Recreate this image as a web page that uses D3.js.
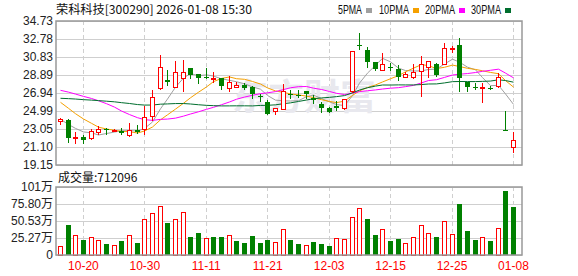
<!DOCTYPE html>
<html lang="zh">
	<head>
		<meta charset="utf-8">
		<title>荣科科技 日K</title>
		<style>
			body { margin: 0; background: #fff; }
			#chart text { font-family: "Liberation Sans", Arial, sans-serif; font-size: 12px; }
			#chart .cjk { font-family: "Noto Sans CJK SC", sans-serif; }
		</style>
	</head>
	<body>
		<svg id="chart" width="578" height="276"></svg>

		<script src="https://cdn.jsdelivr.net/npm/d3@7"></script>
		<script>
			"use strict";

			var dates = ["10-15","10-16","10-17","10-20","10-21","10-22","10-23","10-24","10-27","10-28",
				"10-29","10-30","10-31","11-03","11-04","11-05","11-06","11-07","11-10","11-11",
				"11-12","11-13","11-14","11-17","11-18","11-19","11-20","11-21","11-24","11-25",
				"11-26","11-27","11-28","12-01","12-02","12-03","12-04","12-05","12-08","12-09",
				"12-10","12-11","12-12","12-15","12-16","12-17","12-18","12-19","12-22","12-23",
				"12-24","12-25","12-26","12-29","12-30","12-31","01-05","01-06","01-07","01-08"];
			var open = [23.95,23.98,22.07,22.18,22.04,22.69,23.01,22.87,22.87,22.40,
				22.90,23.01,24.49,27.43,28.35,27.55,28.60,29.65,28.96,28.70,
				28.42,28.53,27.48,27.59,27.81,27.59,26.58,25.97,25.03,25.25,
				26.80,26.76,27.12,26.36,25.79,25.28,25.57,25.28,27.12,32.15,
				31.59,30.30,29.39,29.75,29.54,28.67,28.67,29.36,29.79,30.04,
				30.04,31.74,32.13,28.09,27.55,27.48,27.52,27.70,22.99,21.10];
			var high = [24.20,24.09,22.69,22.40,23.01,23.33,23.19,23.08,23.15,23.66,
				23.48,25.55,27.23,31.05,29.43,30.37,30.51,29.68,28.96,29.65,
				29.25,28.60,28.82,28.17,28.02,27.66,26.87,26.15,25.35,27.88,
				27.26,27.23,27.16,26.72,25.93,25.43,26.08,26.29,31.51,33.43,
				31.95,30.30,31.27,30.19,29.97,29.25,30.04,30.91,30.37,30.22,
				32.35,32.03,32.85,28.17,28.06,28.02,27.70,29.07,25.00,22.69];
			var low = [23.55,21.60,21.50,21.57,21.93,22.47,22.51,22.78,22.54,22.25,
				22.58,22.50,23.98,27.37,27.81,27.55,27.16,28.60,27.99,28.56,
				28.17,27.37,27.19,27.55,27.37,26.36,26.08,24.67,24.63,25.21,
				26.44,26.51,26.36,25.82,24.92,24.85,25.10,25.21,27.08,31.65,
				29.79,29.43,29.39,29.39,28.35,28.64,28.60,26.65,28.71,28.82,
				30.04,31.41,27.19,27.19,27.37,25.93,27.37,27.63,22.97,20.52];
			var close = [24.16,22.11,22.18,21.89,22.80,23.01,22.90,22.97,22.58,22.90,
				22.76,24.31,26.47,29.72,28.17,29.18,29.25,28.89,28.58,28.62,
				28.53,27.74,28.09,27.81,27.52,26.83,26.51,24.70,25.28,27.16,
				26.72,26.69,26.83,26.15,25.28,24.92,25.28,26.26,31.51,32.08,
				30.33,29.50,30.04,29.61,28.67,29.03,29.25,30.11,30.37,28.89,
				31.77,31.85,28.53,27.63,27.48,27.55,27.48,28.71,22.97,21.82];
			// 成交量 (万手)
			var volume = [13.4,44.6,29.2,22.3,26.7,21.8,16.3,14.4,20.8,29.2,
				17.8,53.5,61.9,72.3,47.5,53.5,63.4,26.7,32.7,25.2,
				26.7,26.7,29.2,20.8,17.8,28.2,17.8,22.3,18.8,38.1,
				22.3,16.3,14.4,19.3,16.3,13.4,25.2,23.8,56.4,69.8,
				53.5,29.7,38.6,20.8,23.8,17.3,26.7,44.1,32.2,26.7,
				50.0,31.2,75.7,35.6,22.3,26.7,20.8,40.1,95.0,71.21];
			// closes of the 29 sessions before 10-15 (estimated, used for the MA lines)
			var prevClose = [23.2,23.5,23.9,24.3,24.6,24.8,25.0,25.3,25.6,26.2,
				26.0,26.4,26.9,27.3,28.0,29.2,30.4,31.0,30.6,29.5,
				28.6,28.0,27.6,27.5,27.15,24.9,24.3,23.8,23.3];

			var priceTicks = [19.15, 21.10, 23.05, 24.99, 26.94, 28.89, 30.83, 32.78, 34.73];
			var volTicks = [0, 25.27, 50.53, 75.80, 101.07];
			var volTickLabels = ["0", "25.27万", "50.53万", "75.80万", "101万"];
			var dateTicks = ["10-20","10-30","11-11","11-21","12-03","12-15","12-25","01-08"];
			var maDays = [5, 10, 20, 30];
			var lastVolume = 712096;

			var maColor = ["#a0a0a0", "#f5a000", "#ff00ff", "#006e2e"];
			var upColor = "#ff0000", downColor = "#008000";

			var left = 56, right = 522;
			var svg = d3.select("#chart");

			var x = d3.scaleBand().domain(dates).range([left, left + dates.length * 7.68]);
			var y = d3.scaleLinear().domain([19.15, 34.73]).range([165, 21]);
			var yv = d3.scaleLinear().domain([0, 101.07]).range([255, 187]);

			function cx(d) { return Math.round(x(d) + x.bandwidth() / 2); }

			// 标题和图例
			svg.append("text").attr("class", "cjk").attr("x", 56).attr("y", 14)
				.attr("textLength", 196).attr("lengthAdjust", "spacingAndGlyphs")
				.attr("fill", "#111")
				.text("荣科科技[300290] 2026-01-08 15:30");

			var legendX = [338, 379, 425, 471];
			maDays.forEach(function(n, i){
				var t = svg.append("text").attr("x", legendX[i]).attr("y", 14)
					.attr("fill", "#111").text(n + "PMA");
				t.attr("textLength", n < 10 ? 24 : 30).attr("lengthAdjust", "spacingAndGlyphs");
				svg.append("rect").attr("x", legendX[i] + (n < 10 ? 28 : 34)).attr("y", 8)
					.attr("width", 6).attr("height", 5).attr("fill", maColor[i]);
			});

			// 网格
			var grid = svg.append("g").attr("shape-rendering", "crispEdges");
			grid.selectAll(".hp").data(priceTicks).enter().append("line")
				.attr("x1", left).attr("x2", right)
				.attr("y1", function(d){ return Math.round(y(d)) + 0.5; })
				.attr("y2", function(d){ return Math.round(y(d)) + 0.5; })
				.attr("stroke", "#cfcfcf");
			grid.selectAll(".hv").data(volTicks).enter().append("line")
				.attr("x1", left).attr("x2", right)
				.attr("y1", function(d){ return Math.round(yv(d)) + 0.5; })
				.attr("y2", function(d){ return Math.round(yv(d)) + 0.5; })
				.attr("stroke", "#cfcfcf");
			[[21, 165], [187, 255]].forEach(function(r){
				grid.selectAll(null).data(dateTicks).enter().append("line")
					.attr("x1", function(d){ return cx(d) + 0.5; })
					.attr("x2", function(d){ return cx(d) + 0.5; })
					.attr("y1", r[0]).attr("y2", r[1])
					.attr("stroke", "#cfcfcf").attr("stroke-dasharray", "4,3");
			});

			// 水印
			svg.append("text").attr("class", "cjk").attr("x", 232).attr("y", 110)
				.style("font-size", "36px").style("font-weight", "bold")
				.attr("fill", "#e8e8ee").text("东方财富");

			// 均线
			var allClose = prevClose.concat(close);
			var offset = prevClose.length;
			maDays.forEach(function(n, k){
				var ma = dates.map(function(d, i){
					return d3.mean(allClose.slice(offset + i - n + 1, offset + i + 1));
				});
				svg.append("path").datum(ma)
					.attr("fill", "none").attr("stroke", maColor[k]).attr("stroke-width", 1)
					.attr("d", d3.line()
						.x(function(d, i){ return cx(dates[i]) + 0.5; })
						.y(function(d){ return y(d); }));
			});

			// K线
			var candle = svg.append("g").attr("shape-rendering", "crispEdges")
				.selectAll("g").data(dates).enter().append("g");
			candle.append("line")
				.attr("x1", function(d){ return cx(d) + 0.5; })
				.attr("x2", function(d){ return cx(d) + 0.5; })
				.attr("y1", function(d, i){ return Math.round(y(high[i])); })
				.attr("y2", function(d, i){ return Math.round(y(low[i])) + 1; })
				.attr("stroke", function(d, i){ return close[i] >= open[i] ? upColor : downColor; });
			candle.append("rect")
				.attr("x", function(d, i){ return close[i] >= open[i] ? cx(d) - 1.5 : cx(d) - 2; })
				.attr("y", function(d, i){
					var t = Math.round(y(Math.max(open[i], close[i])));
					return close[i] >= open[i] ? t + 0.5 : t;
				})
				.attr("width", function(d, i){ return close[i] >= open[i] ? 4 : 5; })
				.attr("height", function(d, i){
					var h = Math.round(y(Math.min(open[i], close[i]))) - Math.round(y(Math.max(open[i], close[i])));
					return close[i] >= open[i] ? Math.max(h, 1) : Math.max(h, 1);
				})
				.attr("fill", function(d, i){ return close[i] >= open[i] ? "#fff" : downColor; })
				.attr("stroke", function(d, i){ return close[i] >= open[i] ? upColor : "none"; });

			// 成交量
			function volUp(i) {
				var prev = i === 0 ? prevClose[prevClose.length - 1] : close[i - 1];
				return close[i] >= prev;
			}
			svg.append("g").attr("shape-rendering", "crispEdges")
				.selectAll("rect").data(volume).enter().append("rect")
				.attr("x", function(d, i){ return volUp(i) ? cx(dates[i]) - 1.5 : cx(dates[i]) - 2; })
				.attr("y", function(d, i){ return Math.round(yv(d)) + (volUp(i) ? 0.5 : 0); })
				.attr("width", function(d, i){ return volUp(i) ? 4 : 5; })
				.attr("height", function(d, i){ return 255 - Math.round(yv(d)); })
				.attr("fill", function(d, i){ return volUp(i) ? "#fff" : downColor; })
				.attr("stroke", function(d, i){ return volUp(i) ? upColor : "none"; });

			// 边框
			svg.append("rect").attr("x", left).attr("y", 21).attr("width", right - left).attr("height", 144)
				.attr("fill", "none").attr("stroke", "#999").attr("stroke-width", 1.5);
			svg.append("rect").attr("x", left).attr("y", 187).attr("width", right - left).attr("height", 68)
				.attr("fill", "none").attr("stroke", "#999").attr("stroke-width", 1.5);

			// 坐标轴文字
			var yAxis = svg.append("g").attr("transform", "translate(" + left + ",0)")
				.call(d3.axisLeft(y).tickValues(priceTicks).tickSize(0).tickPadding(3)
					.tickFormat(function(d){ return d.toFixed(2); }));
			var vAxis = svg.append("g").attr("transform", "translate(" + left + ",0)")
				.call(d3.axisLeft(yv).tickValues(volTicks).tickSize(0).tickPadding(3)
					.tickFormat(function(d, i){ return volTickLabels[i]; }));
			var xAxis = svg.append("g").attr("transform", "translate(0,255)")
				.call(d3.axisBottom(x).tickValues(dateTicks).tickSize(0).tickPadding(6));
			[yAxis, vAxis, xAxis].forEach(function(a){
				a.select(".domain").remove();
				a.selectAll("text").style("font-size", "12px")
					.style("font-family", "\"Liberation Sans\", \"Noto Sans CJK SC\", sans-serif");
			});
			yAxis.selectAll("text").attr("fill", "#222");
			vAxis.selectAll("text").attr("fill", "#222");
			xAxis.selectAll("text").attr("fill", "#f00").attr("x", 0.5);

			svg.append("text").attr("class", "cjk").attr("x", 58).attr("y", 182)
				.attr("fill", "#111").text("成交量:" + lastVolume);
		</script>
	</body>
</html>
